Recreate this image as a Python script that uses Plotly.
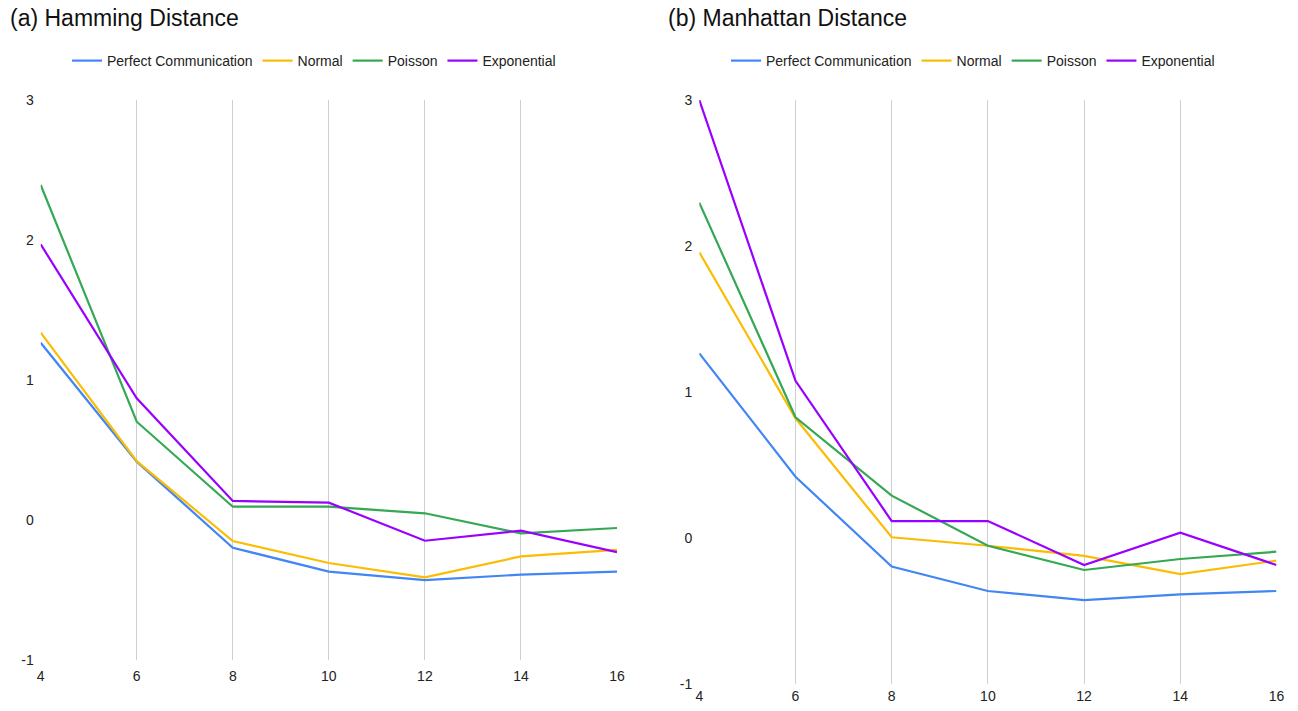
import plotly.graph_objects as go

x_vals = [4, 6, 8, 10, 12, 14, 16]
series_names = ["Perfect Communication", "Normal", "Poisson", "Exponential"]
series_colors = ["#4285F4", "#FBBC04", "#34A853", "#9900FF"]

# (a) Hamming Distance
ham_perfect = [1.266, 0.417, -0.198, -0.369, -0.43, -0.39, -0.369]
ham_normal = [1.338, 0.42, -0.15, -0.307, -0.41, -0.26, -0.214]
ham_poisson = [2.393, 0.702, 0.095, 0.095, 0.048, -0.095, -0.057]
ham_exponential = [1.969, 0.869, 0.136, 0.124, -0.148, -0.076, -0.229]

# (b) Manhattan Distance
man_perfect = [1.265, 0.42, -0.196, -0.363, -0.425, -0.386, -0.363]
man_normal = [1.957, 0.82, 0.005, -0.053, -0.123, -0.247, -0.155]
man_poisson = [2.297, 0.827, 0.29, -0.053, -0.219, -0.144, -0.094]
man_exponential = [3.0, 1.077, 0.116, 0.116, -0.185, 0.036, -0.185]

titles = ["(a) Hamming Distance", "(b) Manhattan Distance"]
y_ticks = [-1, 0, 1, 2, 3]

W, H = 1298, 711
FONT = "Liberation Sans, Arial, Helvetica, sans-serif"
fig = go.Figure()

ham = [ham_perfect, ham_normal, ham_poisson, ham_exponential]
man = [man_perfect, man_normal, man_poisson, man_exponential]

for name, color, ys in zip(series_names, series_colors, ham):
    fig.add_trace(go.Scatter(x=x_vals, y=ys, mode="lines", name=name,
                             line=dict(color=color, width=2.2),
                             xaxis="x", yaxis="y", legend="legend"))
for name, color, ys in zip(series_names, series_colors, man):
    fig.add_trace(go.Scatter(x=x_vals, y=ys, mode="lines", name=name,
                             line=dict(color=color, width=2.2),
                             xaxis="x2", yaxis="y2", legend="legend2"))

tick_font = dict(family=FONT, size=14, color="#222222")
xcommon = dict(range=[4, 16], tickmode="array", tickvals=x_vals,
               ticktext=[str(v) for v in x_vals], showgrid=True,
               gridcolor="#cfcfcf", gridwidth=1.2, zeroline=False,
               showline=False, ticks="", tickfont=tick_font, automargin=False)
ycommon = dict(range=[-1, 3], tickmode="array", tickvals=y_ticks,
               ticktext=[str(v) for v in y_ticks], showgrid=False,
               zeroline=False, showline=False, ticks="", tickfont=tick_font,
               ticklabelstandoff=6, automargin=False)

legend_common = dict(orientation="h", xanchor="center", yanchor="middle",
                     font=dict(family=FONT, size=14, color="#222222"),
                     itemwidth=30, bgcolor="rgba(0,0,0,0)")

fig.update_layout(
    width=W, height=H,
    margin=dict(l=0, r=0, t=0, b=0, pad=0),
    plot_bgcolor="white", paper_bgcolor="white",
    xaxis=dict(domain=[40.7 / W, 617 / W], anchor="y", ticklabelstandoff=6, **xcommon),
    yaxis=dict(domain=[1 - 660 / H, 1 - 100 / H], anchor="x", **ycommon),
    xaxis2=dict(domain=[699.3 / W, 1276.5 / W], anchor="y2", ticklabelstandoff=2, **xcommon),
    yaxis2=dict(domain=[1 - 684 / H, 1 - 100 / H], anchor="x2", **ycommon),
    legend=dict(x=314 / W, y=1 - 61 / H, **legend_common),
    legend2=dict(x=973 / W, y=1 - 61 / H, **legend_common),
    annotations=[
        dict(text=titles[0], x=8 / W, y=1 - 18 / H, xref="paper", yref="paper",
             xanchor="left", yanchor="middle", showarrow=False,
             font=dict(family=FONT, size=23, color="#111111")),
        dict(text=titles[1], x=666 / W, y=1 - 18 / H, xref="paper", yref="paper",
             xanchor="left", yanchor="middle", showarrow=False,
             font=dict(family=FONT, size=23, color="#111111")),
    ],
)

fig.write_html("out.html", config={"displayModeBar": False},
               post_script="document.body.style.margin='0';document.body.style.overflow='hidden';")
